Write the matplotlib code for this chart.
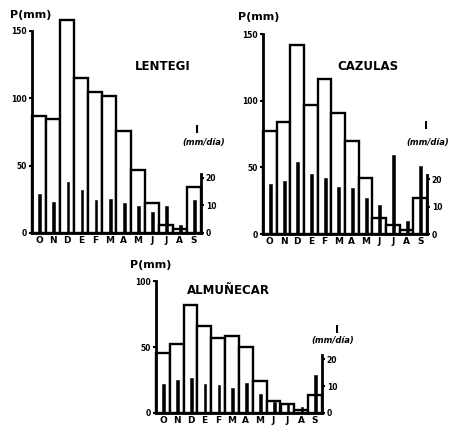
import matplotlib
matplotlib.use('Agg')
import matplotlib.pyplot as plt
import numpy as np

plt.rcParams['font.family'] = ['DejaVu Sans']
plt.rcParams['font.weight'] = 'bold'

# monthly data, hydrological year Oct -> Sep
months = ['O', 'N', 'D', 'E', 'F', 'M', 'A', 'M', 'J', 'J', 'A', 'S']

# precipitation P (mm)
lentegi_p = [87, 85, 158, 115, 105, 102, 76, 47, 22, 6, 3, 34]
cazulas_p = [77, 84, 142, 97, 116, 91, 70, 42, 12, 7, 3, 27]
almunecar_p = [45.6, 52.6, 82, 66, 57, 58.5, 50, 24, 9, 7, 2, 14]

# intensity I (mm/dia)
lentegi_i = [14.1, 11.4, 18.4, 15.7, 12.0, 12.3, 10.8, 9.8, 7.5, 9.8, 2.8, 12.0]
cazulas_i = [18.4, 19.4, 26.3, 21.8, 20.4, 17.3, 17.0, 13.3, 10.5, 28.8, 4.6, 24.8]
almunecar_i = [10.9, 12.3, 13.1, 10.6, 10.2, 9.3, 11.1, 7.2, 4.1, 3.7, 2.2, 14.0]

W, H = 456, 428
K = 2.05  # mm of P per unit of I on the drawing


def ftext(fig, x, y, s, **kw):
    # place text using pixel coords of the original picture
    fig.text(x / W, 1 - y / H, s, **kw)


def drawPanel(fig, left, right, base, scale, ptop, pticks, p, i):
    rect = [left / W, (H - base) / H, (right - left) / W, ptop * scale / H]
    ax = fig.add_axes(rect)
    x = np.arange(len(months))
    ax.bar(x, p, width=1, align='edge', facecolor='white', edgecolor='black',
           linewidth=1.7, zorder=2, clip_on=False)
    ax.set_xlim(0, 12)
    ax.set_ylim(0, ptop)
    ax.set_xticks(x + 0.5, months)
    ax.set_yticks(pticks)
    ax.tick_params(axis='x', length=0, pad=2, labelsize=6.5)
    ax.tick_params(axis='y', direction='out', length=2.5, width=1.5, pad=1.5, labelsize=5.5)
    for s in ['top', 'right']:
        ax.spines[s].set_visible(False)
    ax.spines['left'].set_bounds(0, pticks[-1])
    ax.spines['left'].set_linewidth(2)
    ax.spines['bottom'].set_linewidth(2)
    ax.patch.set_visible(False)

    ax2 = ax.twinx()
    ax2.bar(x + 0.55, i, width=0.2, color='black', edgecolor='black',
            linewidth=0.4, zorder=3, clip_on=False)
    ax2.set_ylim(0, ptop / K)
    ax2.set_yticks([0, 10, 20])
    ax2.tick_params(axis='y', direction='out', length=2, width=1.5, pad=1.5, labelsize=5.5)
    for s in ['top', 'left', 'bottom']:
        ax2.spines[s].set_visible(False)
    ax2.spines['right'].set_bounds(0, 21.5)
    ax2.spines['right'].set_linewidth(2)
    return ax, ax2


fig = plt.figure(figsize=(4.56, 4.28), dpi=100)

drawPanel(fig, 32, 201, 233, 1.347, 165, [0, 50, 100, 150], lentegi_p, lentegi_i)
ftext(fig, 163, 67, 'LENTEGI', ha='center', va='center', fontsize=8.5)
ftext(fig, 10, 15, 'P(mm)', ha='left', va='center', fontsize=8)
ftext(fig, 197, 130, 'I', ha='center', va='center', fontsize=8)
ftext(fig, 204, 142, '(mm/día)', ha='center', va='center', fontsize=6, style='italic')

drawPanel(fig, 263, 427, 234, 1.333, 165, [0, 50, 100, 150], cazulas_p, cazulas_i)
ftext(fig, 368, 67, 'CAZULAS', ha='center', va='center', fontsize=8.5)
ftext(fig, 238, 17, 'P(mm)', ha='left', va='center', fontsize=8)
ftext(fig, 426, 126, 'I', ha='center', va='center', fontsize=8)
ftext(fig, 428, 143, '(mm/día)', ha='center', va='center', fontsize=6, style='italic')

drawPanel(fig, 156, 322, 413, 1.317, 105, [0, 50, 100], almunecar_p, almunecar_i)
ftext(fig, 228, 290, 'ALMUÑECAR', ha='center', va='center', fontsize=8.5)
ftext(fig, 130, 265, 'P(mm)', ha='left', va='center', fontsize=8)
ftext(fig, 337, 330, 'I', ha='center', va='center', fontsize=8)
ftext(fig, 333, 341, '(mm/día)', ha='center', va='center', fontsize=6, style='italic')

fig.savefig('out.png', dpi=100)
plt.close()
